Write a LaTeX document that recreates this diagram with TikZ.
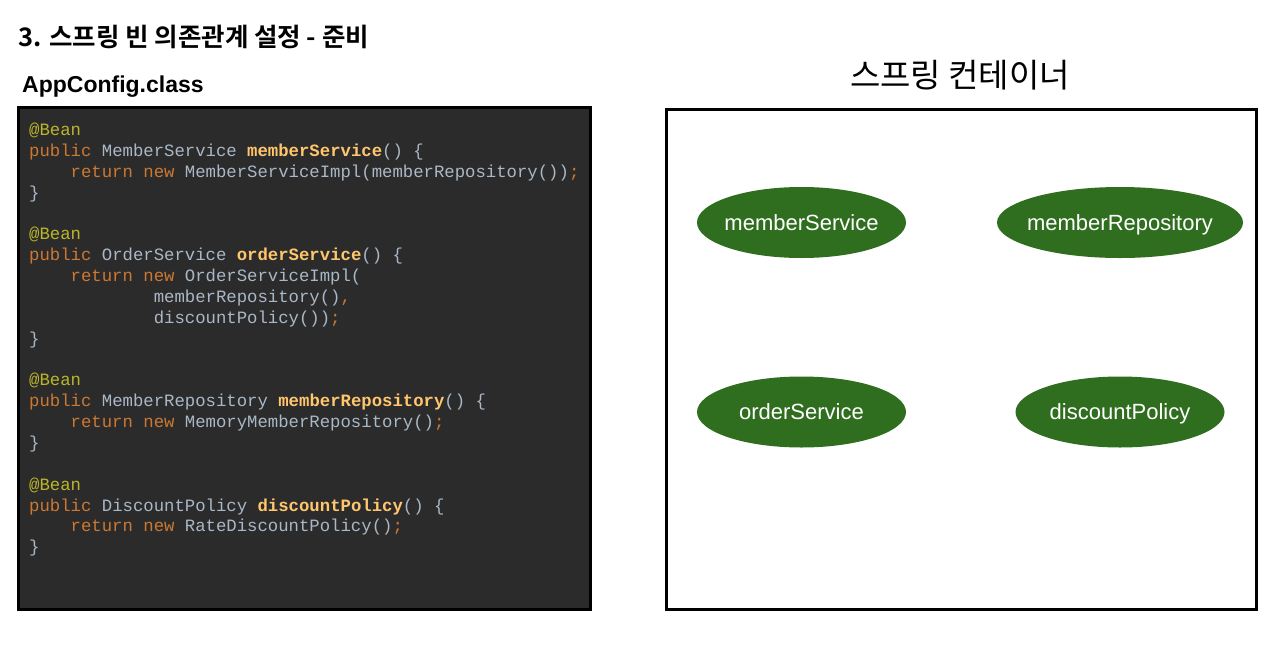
\documentclass[tikz,border=0pt]{standalone}
\usepackage{fontspec}
\setmainfont{Liberation Sans}
\setmonofont{Liberation Mono}
\newfontfamily\krfont{Noto Sans CJK KR}[BoldFont={Noto Sans CJK KR Bold}]
\usetikzlibrary{shapes.geometric,positioning}
\definecolor{codebg}{HTML}{2B2B2B}
\definecolor{cdplain}{HTML}{A9B7C6}
\definecolor{cdkey}{HTML}{CC7832}
\definecolor{cdanno}{HTML}{BBB529}
\definecolor{cdmeth}{HTML}{FFC66D}
\definecolor{beangreen}{HTML}{306E1F}
\newcommand{\cdkw}[1]{\textcolor{cdkey}{#1}}
\newcommand{\cdan}[1]{\textcolor{cdanno}{#1}}
\newcommand{\cdfn}[1]{\textcolor{cdmeth}{\bfseries #1}}
\newcommand{\cdind}[1]{\hspace*{#1\dimexpr 10.38pt\relax}}
\tikzset{
  heading/.style   = {inner sep=0pt, font=\krfont\bfseries\fontsize{25.5}{30}\selectfont},
  subhead/.style   = {inner sep=0pt, font=\bfseries\fontsize{23}{27}\selectfont},
  codebox/.style   = {draw=black, line width=3pt, fill=codebg},
  codetxt/.style   = {inner sep=0pt, align=left, text=cdplain,
                      font=\ttfamily\fontsize{17.3}{20.85}\selectfont},
  ctrbox/.style    = {draw=black, line width=3pt, fill=white},
  ctrlabel/.style  = {inner sep=0pt, font=\krfont\fontsize{33}{40}\selectfont},
  bean/.style      = {ellipse, fill=beangreen, text=white,
                      inner xsep=-15pt, inner ysep=0pt,
                      text height=19.8pt, text depth=4.6pt,
                      minimum width=209pt, minimum height=71pt,
                      font=\fontsize{22}{26}\selectfont},
}
\begin{document}
\begin{tikzpicture}[x=1pt,y=-1pt]
  \useasboundingbox (0,0) rectangle (1280,667);

  % headings
  \node[heading, anchor=base west] (title) at (18,46) {3. 스프링 빈 의존관계 설정 - 준비};
  \node[subhead, anchor=base west] (cfgname) at (22,92) {AppConfig.class};

  % AppConfig source
  \draw[codebox] (18,107) rectangle (590,609);
  \node[codetxt, anchor=north west] (code) at (29,123) {%
    \cdan{@Bean}\\
    \cdkw{public} MemberService \cdfn{memberService}() \{\\
    \cdind{4}\cdkw{return new} MemberServiceImpl(memberRepository())\cdkw{;}\\
    \}\\
    \mbox{}\\
    \cdan{@Bean}\\
    \cdkw{public} OrderService \cdfn{orderService}() \{\\
    \cdind{4}\cdkw{return new} OrderServiceImpl(\\
    \cdind{12}memberRepository()\cdkw{,}\\
    \cdind{12}discountPolicy())\cdkw{;}\\
    \}\\
    \mbox{}\\
    \cdan{@Bean}\\
    \cdkw{public} MemberRepository \cdfn{memberRepository}() \{\\
    \cdind{4}\cdkw{return new} MemoryMemberRepository()\cdkw{;}\\
    \}\\
    \mbox{}\\
    \cdan{@Bean}\\
    \cdkw{public} DiscountPolicy \cdfn{discountPolicy}() \{\\
    \cdind{4}\cdkw{return new} RateDiscountPolicy()\cdkw{;}\\
    \}};

  % spring container
  \node[ctrlabel] (ctrname) at (960,75) {스프링 컨테이너};
  \draw[ctrbox] (666,109) rectangle (1256,609);
  \node[bean] (memsvc) at (801.5,222.5) {memberService};
  \node[bean, minimum width=246pt] (memrepo) at (1120,222.5) {memberRepository};
  \node[bean] (ordsvc) at (801.5,412) {orderService};
  \node[bean] (discpol) at (1120,412) {discountPolicy};
\end{tikzpicture}
\end{document}
